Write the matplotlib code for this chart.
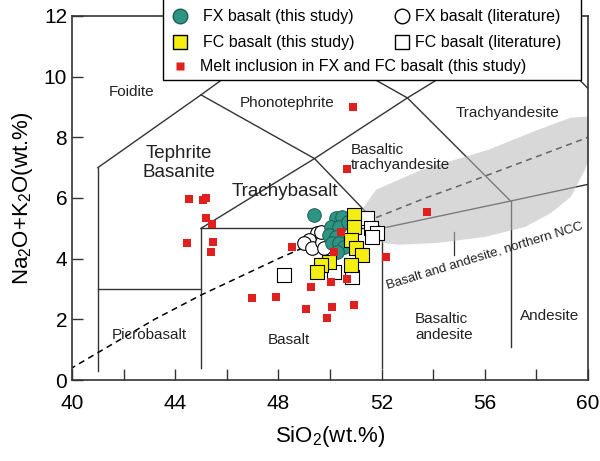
import matplotlib
matplotlib.use("Agg")
import matplotlib.pyplot as plt
from matplotlib.lines import Line2D
from matplotlib.patches import Rectangle, Polygon

plt.rcParams['font.family'] = ['Liberation Sans', 'DejaVu Sans']
plt.rcParams['mathtext.default'] = 'regular'

# --- data ---
# FX basalt, this study (teal circles)
fx_x = [49.38, 50.23, 50.46, 50.04, 50.35, 49.96, 50.23, 50.08, 50.35, 50.54, 50.27, 50.81, 50.70]
fx_y = [5.45, 5.35, 5.38, 5.05, 5.05, 4.79, 4.72, 4.52, 4.52, 4.39, 4.22, 4.69, 5.20]

# FX basalt, literature (open circles)
fx_lit_x = [49.50, 49.19, 49.00, 49.31, 49.69, 49.77, 49.65]
fx_lit_y = [4.85, 4.62, 4.52, 4.36, 4.55, 4.36, 4.88]

# FC basalt, this study (yellow squares)
fc_x = [50.93, 50.93, 50.81, 51.00, 51.24, 50.81, 49.96, 49.65, 49.50]
fc_y = [5.45, 5.05, 4.62, 4.36, 4.13, 3.80, 3.89, 3.80, 3.56]

# FC basalt, literature (open squares)
fc_lit_x = [51.43, 51.58, 51.81, 51.62, 50.15, 50.85, 48.22]
fc_lit_y = [5.35, 5.02, 4.85, 4.72, 3.56, 3.40, 3.47]

# melt inclusions (small red squares)
mi_x = [50.89, 50.66, 53.75, 44.52, 45.06, 45.21, 45.21, 45.44, 44.44, 45.48, 45.37,
        50.42, 50.15, 52.16, 48.53, 49.27, 50.04, 50.66, 46.99, 47.92, 49.07, 50.08,
        50.93, 49.88]
mi_y = [9.01, 6.96, 5.54, 5.97, 5.94, 6.00, 5.35, 5.15, 4.52, 4.55, 4.22,
        4.88, 4.22, 4.06, 4.39, 3.07, 3.23, 3.33, 2.71, 2.74, 2.34, 2.41,
        2.48, 2.05]

# TAS classification boundaries (Le Bas et al., 1986)
tas_lines = [
    [(41, 0.3), (41, 7)],
    [(41, 7), (45, 9.4), (48.4, 11.5), (52.5, 14)],
    [(41, 3), (45, 3)],
    [(45, 0.4), (45, 5)],
    [(45, 5), (52, 5)],
    [(45, 5), (49.4, 7.3), (53, 9.3), (57.6, 11.7)],
    [(45, 9.4), (49.4, 7.3), (52, 5)],
    [(48.4, 11.5), (53, 9.3), (57, 5.9)],
    [(52, 0.4), (52, 5)],
    [(52, 5), (57, 5.9), (63, 7)],
    [(57, 1.1), (57, 5.9)],
    [(57.6, 11.7), (63, 7)],
]

# alkaline / subalkaline divide (Irvine & Baragar, 1971)
ib_x = [39.2, 40, 43.2, 45, 48, 50, 53.7, 55, 60, 65]
ib_y = [0, 0.4, 2.0, 2.8, 4.0, 4.75, 6.0, 6.4, 8.0, 8.8]

# field of basalt and andesite, northern NCC
ncc_x = [51.24, 51.78, 53.55, 56.14, 58.07, 59.34, 60.3, 60.3, 59.88, 59.34, 58.57,
         57.57, 56.02, 54.20, 52.66, 52.00, 51.39]
ncc_y = [5.61, 6.27, 6.93, 7.59, 8.25, 8.65, 8.70, 7.90, 6.93, 6.04, 5.51,
         5.05, 4.72, 4.52, 4.46, 4.52, 5.05]

# rock names
names_small = ['Foidite', 'Phonotephrite', 'Trachyandesite', 'Picrobasalt', 'Basalt', 'Andesite']
names_small_x = [42.3, 48.34, 56.87, 43.0, 48.4, 58.5]
names_small_y = [9.5, 9.14, 8.81, 1.49, 1.32, 2.11]

names_left = ['Basaltic\ntrachyandesite', 'Basaltic\nandesite']
names_left_x = [50.8, 53.3]
names_left_y = [7.33, 1.75]

names_big = ['Tephrite\nBasanite', 'Trachybasalt']
names_big_x = [44.13, 48.26]
names_big_y = [7.16, 6.2]

teal = '#2e9484'
yellow = '#f4ee12'
red = '#e0201e'
lc = '#333333'

fig = plt.figure(figsize=(6, 4.61), dpi=100)
ax = fig.add_axes([0.12, 0.1757, 0.86, 0.7896])

for seg in tas_lines:
    xs = [p[0] for p in seg]
    ys = [p[1] for p in seg]
    ax.plot(xs, ys, color=lc, lw=1.0, zorder=1)

ax.plot(ib_x, ib_y, color='black', lw=1.1, ls=(0, (4, 3)), zorder=1)

ax.add_patch(Polygon(list(zip(ncc_x, ncc_y)), closed=True, facecolor='#b8b8b8',
                     edgecolor='none', alpha=0.55, zorder=1.5))
ax.plot([54.8, 54.8], [4.88, 4.12], color=lc, lw=0.9, zorder=1)
ax.text(56.0, 4.09, 'Basalt and andesite, northern NCC', fontsize=9.5, rotation=17,
        ha='center', va='center', rotation_mode='anchor', color='#222222')

for n, x, y in zip(names_small, names_small_x, names_small_y):
    ax.text(x, y, n, fontsize=11, ha='center', va='center', color='#222222')
for n, x, y in zip(names_left, names_left_x, names_left_y):
    ax.text(x, y, n, fontsize=11, ha='left', va='center', color='#222222', linespacing=1.15)
for n, x, y in zip(names_big, names_big_x, names_big_y):
    ax.text(x, y, n, fontsize=13.5, ha='center', va='center', color='#222222', linespacing=1.2)

ms = 9.8 ** 2
ax.scatter(fx_lit_x, fx_lit_y, s=ms, marker='o', facecolor='white', edgecolor='black', lw=0.8, zorder=3)
ax.scatter(fx_x, fx_y, s=ms, marker='o', facecolor=teal, edgecolor='#1d5f55', lw=0.7, zorder=4)
ax.scatter(fc_lit_x, fc_lit_y, s=ms, marker='s', facecolor='white', edgecolor='black', lw=0.8, zorder=5)
ax.scatter(fc_x, fc_y, s=ms, marker='s', facecolor=yellow, edgecolor='black', lw=0.8, zorder=6)
ax.scatter(mi_x, mi_y, s=5.8 ** 2, marker='s', facecolor=red, edgecolor='none', zorder=7)

ax.set_xlim(40, 60)
ax.set_ylim(0, 12)
ax.set_xticks([40, 44, 48, 52, 56, 60])
ax.set_xticks([42, 46, 50, 54, 58], minor=True)
ax.set_yticks([0, 2, 4, 6, 8, 10, 12])
ax.tick_params(which='both', direction='in', length=8, width=1, labelsize=15, color='#333333')
ax.tick_params(axis='x', pad=10)
for s in ax.spines.values():
    s.set_linewidth(1.2)
    s.set_color('#333333')

ax.set_xlabel('SiO$_2$(wt.%)', fontsize=16, labelpad=8)
ax.set_ylabel('Na$_2$O+K$_2$O(wt.%)', fontsize=16, labelpad=6)

# legend box (goes over the top spine)
fig.add_artist(Rectangle((163 / 600, 1 - 80 / 461), (581 - 163) / 600, 0.2,
                         transform=fig.transFigure, facecolor='white', edgecolor='black',
                         lw=1.0, zorder=10))

W, H = 600, 461
fs_leg = 11.5
entries = [
    (Line2D([], [], ls='none', marker='o', ms=10.5, mfc=teal, mec='#1d5f55'),
     'FX basalt (this study)', 180, 17, 0.95),
    (Line2D([], [], ls='none', marker='s', ms=10, mfc=yellow, mec='black'),
     'FC basalt (this study)', 180, 43, 0.95),
    (Line2D([], [], ls='none', marker='s', ms=5.5, mfc=red, mec='none'),
     'Melt inclusion in FX and FC basalt (this study)', 180, 67, 0.75),
    (Line2D([], [], ls='none', marker='o', ms=10.5, mfc='white', mec='black'),
     'FX basalt (literature)', 402, 17, 0.3),
    (Line2D([], [], ls='none', marker='s', ms=10, mfc='white', mec='black'),
     'FC basalt (literature)', 402, 43, 0.3),
]
hl = 1.0
for h, lab, px, py, pad in entries:
    x0 = px - hl * fs_leg * 100 / 72 / 2
    leg = fig.legend([h], [lab], loc='center left', bbox_to_anchor=(x0 / W, 1 - py / H),
                     bbox_transform=fig.transFigure, frameon=False, borderpad=0,
                     borderaxespad=0, handlelength=hl, handletextpad=pad, fontsize=fs_leg)
    leg.set_zorder(11)

fig.savefig('out.png', dpi=100)
